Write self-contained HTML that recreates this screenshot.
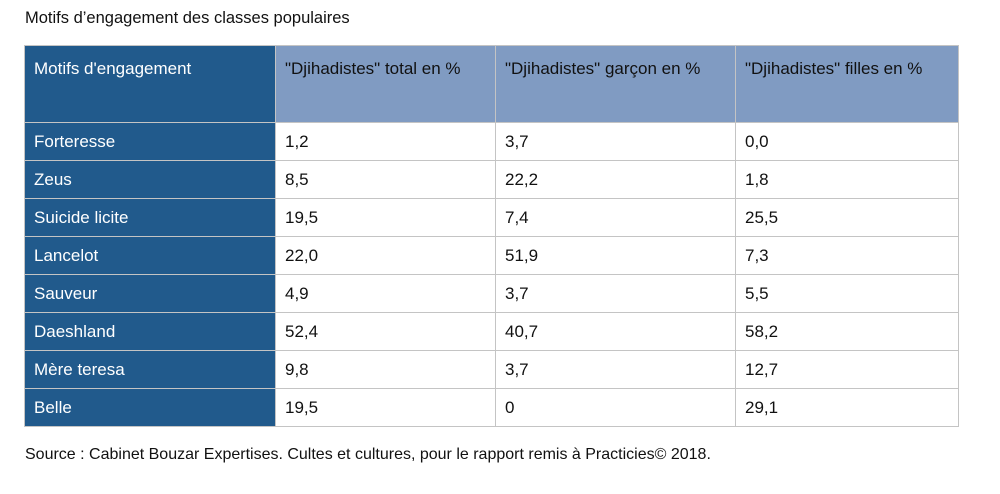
<!DOCTYPE html>
<html><head><meta charset="utf-8"><style>
body{margin:0;width:1000px;height:494px;background:#fff;font-family:"Liberation Sans",sans-serif;position:relative;overflow:hidden}
.t{position:absolute;font-size:16px;color:#111;white-space:nowrap}
.c{position:absolute;box-sizing:border-box;border:1px solid #c4c4c4;font-size:17px;color:#111;padding-left:9px;white-space:nowrap;display:flex;align-items:center}
.h{align-items:flex-start;padding-top:13px}
.dark{background:#215a8c;color:#fff}
.light{background:#809bc2;color:#111}
</style></head><body>
<div class="t" style="left:25px;top:9px;font-size:16.5px">Motifs d’engagement des classes populaires</div>
<div id="tbl"></div>
<div class="t" style="left:25px;top:446px">Source : Cabinet Bouzar Expertises. Cultes et cultures, pour le rapport remis à Practicies© 2018.</div>
<script>
const headers=["Motifs d'engagement","\"Djihadistes\" total en %","\"Djihadistes\" garçon en %","\"Djihadistes\" filles en %"];
const categories=["Forteresse","Zeus","Suicide licite","Lancelot","Sauveur","Daeshland","Mère teresa","Belle"];
const total=["1,2","8,5","19,5","22,0","4,9","52,4","9,8","19,5"];
const garcon=["3,7","22,2","7,4","51,9","3,7","40,7","3,7","0"];
const filles=["0,0","1,8","25,5","7,3","5,5","58,2","12,7","29,1"];
const xs=[24,275,495,735,958];
const top0=45,hh=77,rh=38;
const tbl=document.getElementById('tbl');
function cell(col,y,h,txt,cls,name){
  const d=document.createElement('div');
  d.className='c '+cls;
  d.style.left=xs[col]+'px';d.style.top=y+'px';
  d.style.width=(xs[col+1]-xs[col]+1)+'px';d.style.height=(h+1)+'px';
  d.textContent=txt;
  
  
  tbl.appendChild(d);
}
headers.forEach((h,i)=>cell(i,top0,hh,h,'h '+(i==0?'dark':'light'),'header-cell'));
categories.forEach((c,r)=>{
  const y=top0+hh+r*rh;
  cell(0,y,rh,c,'dark','row-label');
  cell(1,y,rh,total[r],'','total-value');
  cell(2,y,rh,garcon[r],'','garcon-value');
  cell(3,y,rh,filles[r],'','filles-value');
});
</script>
</body></html>
